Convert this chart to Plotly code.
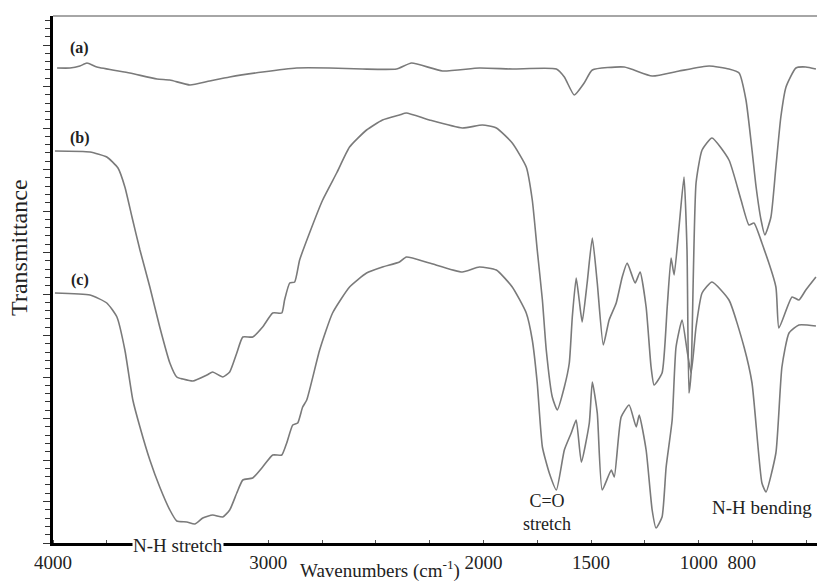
import plotly.graph_objects as go

# ---- data (wavenumber cm^-1, transmittance in arbitrary offset units) ----
wn_a = [3981, 3921, 3875, 3842, 3796, 3643, 3517, 3457, 3364, 3272, 3179, 3026, 2868, 2715,
        2562, 2404, 2334, 2190, 2019, 1866, 1661, 1624, 1578, 1532, 1494, 1346, 1216, 1091,
        951, 859, 812, 780, 752, 733, 710, 692, 664, 641, 618, 594, 548, 502, 455]
t_a = [47.5, 47.5, 47.7, 48.0, 47.6, 47.0, 46.4, 46.3, 45.8, 46.2, 46.6, 47.1, 47.5, 47.5,
       47.4, 47.4, 48.0, 47.2, 47.5, 47.4, 47.4, 46.6, 44.8, 46.0, 47.3, 47.6, 46.7, 47.2,
       47.7, 47.4, 47.0, 44.3, 39.3, 35.6, 32.3, 30.8, 32.6, 37.6, 42.6, 45.6, 47.5, 47.6, 47.4]

wn_b = [3991, 3828, 3750, 3698, 3666, 3633, 3596, 3550, 3504, 3457, 3425, 3397, 3350, 3285,
        3258, 3211, 3179, 3146, 3118, 3072, 3026, 2979, 2937, 2924, 2900, 2877, 2854, 2808,
        2747, 2682, 2622, 2543, 2469, 2390, 2358, 2251, 2098, 2005, 1940, 1866, 1801, 1773,
        1750, 1726, 1708, 1680, 1657, 1624, 1601, 1587, 1569, 1555, 1541, 1518, 1494, 1471,
        1443, 1416, 1383, 1355, 1332, 1295, 1272, 1244, 1221, 1207, 1170, 1146, 1128, 1114,
        1091, 1068, 1054, 1045, 1035, 1012, 984, 938, 859, 803, 766, 743, 706, 641, 627,
        566, 534, 502, 455]
t_b = [39.2, 39.1, 38.6, 37.5, 35.6, 32.6, 29.3, 25.6, 21.6, 18.0, 16.6, 16.4, 16.2, 16.8,
       17.1, 16.6, 17.1, 19.0, 20.6, 20.6, 21.6, 23.0, 23.0, 24.3, 26.0, 26.1, 28.3, 31.0,
       34.3, 37.0, 39.6, 41.3, 42.3, 42.8, 43.0, 42.3, 41.5, 41.8, 41.5, 40.0, 37.6, 34.3,
       29.3, 24.3, 19.3, 14.6, 13.3, 15.6, 18.0, 22.6, 26.5, 24.3, 22.1, 26.0, 30.5, 26.0,
       19.8, 22.3, 24.0, 26.6, 28.0, 26.0, 27.1, 23.6, 17.6, 15.8, 17.0, 23.6, 28.5, 26.8,
       31.6, 36.6, 29.3, 15.0, 17.0, 36.0, 39.3, 40.5, 38.3, 34.3, 31.8, 32.0, 30.0, 25.6,
       21.5, 24.6, 24.3, 25.3, 26.6]

wn_c = [3991, 3828, 3750, 3703, 3666, 3629, 3596, 3550, 3504, 3457, 3425, 3378, 3341, 3304,
        3258, 3211, 3179, 3146, 3118, 3072, 3026, 2979, 2937, 2914, 2886, 2863, 2840, 2821,
        2761, 2701, 2622, 2543, 2469, 2390, 2358, 2251, 2098, 2019, 1940, 1866, 1801, 1773,
        1750, 1726, 1694, 1661, 1624, 1592, 1569, 1545, 1508, 1494, 1471, 1448, 1406, 1392,
        1360, 1323, 1290, 1276, 1244, 1216, 1198, 1170, 1151, 1123, 1105, 1077, 1054, 1035,
        1012, 984, 938, 859, 789, 752, 706, 687, 641, 613, 580, 534, 455]
t_c = [25.0, 24.8, 24.0, 22.6, 19.3, 14.3, 11.6, 8.3, 5.6, 3.3, 2.2, 2.1, 1.9, 2.5,
       2.8, 2.6, 3.3, 5.0, 6.3, 6.5, 7.6, 8.8, 8.8, 10.0, 11.8, 12.0, 13.6, 14.3,
       19.3, 23.0, 25.6, 27.0, 27.6, 28.1, 28.6, 28.0, 27.1, 27.6, 27.3, 25.6, 23.0, 20.3,
       16.0, 9.6, 7.0, 5.3, 9.3, 11.0, 12.3, 8.1, 12.0, 16.1, 13.0, 5.3, 7.3, 6.6,
       12.6, 13.8, 11.6, 12.8, 9.3, 3.3, 1.5, 2.6, 7.6, 12.3, 19.6, 22.3, 19.3, 17.0,
       21.6, 25.0, 26.1, 24.3, 19.6, 16.0, 6.0, 5.1, 9.0, 17.6, 21.0, 21.8, 21.7]

x_tick_vals = [4000, 3000, 2000, 1500, 1000, 800]
x_tick_text = ["4000", "3000", "2000", "1500", "1000", "800"]

SERIF = "Liberation Serif, Times New Roman, serif"
LINE = "#7a7a7a"

fig = go.Figure()
for xs, ys in [(wn_a, t_a), (wn_b, t_b), (wn_c, t_c)]:
    fig.add_trace(go.Scatter(x=xs, y=ys, mode="lines",
                             line=dict(color=LINE, width=1.6, shape="spline", smoothing=0.5),
                             showlegend=False, hoverinfo="skip"))

fig.update_layout(
    width=817, height=581,
    margin=dict(l=53, r=0, t=16, b=38),
    paper_bgcolor="white", plot_bgcolor="white",
    font=dict(family=SERIF, color="#222", size=19),
    xaxis=dict(range=[4000, 450], showgrid=False, zeroline=False,
               showline=True, linecolor="black", linewidth=2.5,
               tickmode="array", tickvals=x_tick_vals, ticktext=x_tick_text,
               ticks="", tickfont=dict(family=SERIF, size=19, color="#222"),
               minor=dict(ticks="inside", dtick=250, tick0=0, ticklen=3,
                          tickcolor="#555", tickwidth=1, showgrid=False)),
    yaxis=dict(range=[0, 52.7], showgrid=False, zeroline=False,
               showline=True, linecolor="black", linewidth=3,
               showticklabels=False, tickmode="linear", tick0=0, dtick=4.15,
               ticks="outside", ticklen=7, tickcolor="#333", tickwidth=1,
               minor=dict(ticks="outside", dtick=0.83, tick0=0, ticklen=5,
                          tickcolor="#333", tickwidth=1, showgrid=False)),
)

# top frame line
fig.add_shape(type="line", xref="paper", yref="paper", x0=0, x1=1, y0=1, y1=1,
              line=dict(color="#888", width=1.5))

annots = [
    dict(x=3875, y=49.5, text="<b>(a)</b>", font=dict(size=16)),
    dict(x=3875, y=40.5, text="<b>(b)</b>", font=dict(size=16)),
    dict(x=3875, y=26.3, text="<b>(c)</b>", font=dict(size=16)),
    dict(x=1703, y=3.1, text="C=O<br>stretch", font=dict(size=18)),
    dict(x=706, y=3.6, text="N-H bending", font=dict(size=19)),
]
for a in annots:
    fig.add_annotation(xref="x", yref="y", showarrow=False, xanchor="center",
                       yanchor="middle", font_family=SERIF, font_color="#222", **a)

# label sitting on the x axis line (breaks the line with a white box)
fig.add_annotation(xref="paper", yref="paper", x=(178 - 53) / 764, y=-0.004,
                   showarrow=False, text="N-H stretch", bgcolor="white", borderpad=0,
                   font=dict(family=SERIF, size=19, color="#222"),
                   xanchor="center", yanchor="middle")
fig.add_annotation(xref="paper", yref="paper", x=0.428, y=-0.051, showarrow=False,
                   text="Wavenumbers (cm<sup>-1</sup>)", font=dict(family=SERIF, size=19, color="#222"),
                   xanchor="center", yanchor="middle")
fig.add_annotation(xref="paper", yref="paper", x=-0.0445, y=0.56, showarrow=False,
                   text="Transmittance", textangle=-90,
                   font=dict(family=SERIF, size=24, color="#222"),
                   xanchor="center", yanchor="middle")

fig.write_html("out.html")
